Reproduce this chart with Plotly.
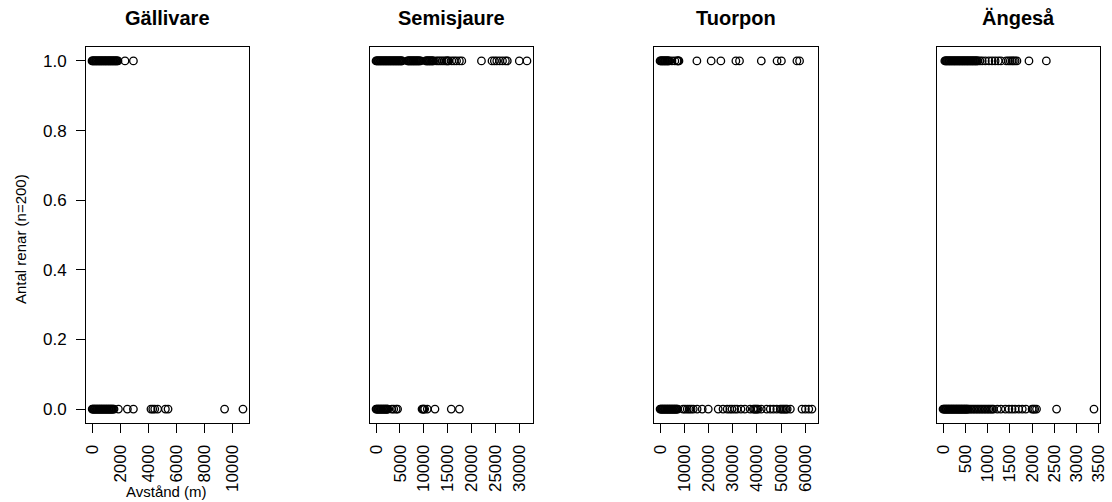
import plotly.graph_objects as go

# ---------------- data ----------------
sites = ["Gällivare", "Semisjaure", "Tuorpon", "Ängeså"]
y_title = "Antal renar (n=200)"
x_title = "Avstånd (m)"

gal_1 = [0, 35, 90, 140, 195, 240, 290, 345, 390, 445, 500, 540, 595, 640, 690, 745, 790, 845,
         900, 940, 995, 1040, 1090, 1150, 1190, 1245, 1290, 1340, 1395, 1440, 1490, 1545, 1590,
         1640, 1695, 1740, 1790, 1850, 2350, 2950]
gal_0 = [10, 55, 105, 150, 205, 250, 300, 355, 400, 450, 505, 550, 600, 655, 700, 750, 800,
         855, 900, 950, 1005, 1050, 1100, 1150, 1205, 1250, 1300, 1355, 1400, 1450, 1505, 1570,
         1880, 2520, 2950, 4200, 4330, 4470, 4680, 5230, 5420, 9450, 10760]

sem_1 = [0, 140, 290, 450, 590, 740, 890, 1030, 1190, 1330, 1480, 1640, 1780, 1930, 2080, 2230,
         2370, 2520, 2680, 2820, 2970, 3120, 3260, 3420, 3560, 3710, 3870, 4010, 4160, 4310,
         4450, 4610, 4750, 4900, 5050, 5200, 5340, 5440, 6560, 6710, 6860, 7010, 7150, 7300,
         7460, 7600, 7750, 7900, 8050, 8190, 8350, 8500, 8640, 8800, 8950, 9100, 9310, 10350,
         10500, 10650, 10790, 10950, 11100, 11240, 11400, 11550, 11700, 11850, 12020, 12600,
         13000, 13400, 13800, 14200, 14600, 14800, 15000, 15200, 15800, 16300, 16800, 17400,
         17900, 22000, 24200, 24700, 25200, 25800, 26400, 27000, 27400, 29900, 31500]
sem_0 = [0, 140, 300, 440, 590, 740, 890, 1040, 1180, 1330, 1480, 1630, 1780, 1920, 2070, 2220,
         2370, 2450, 3300, 3700, 4200, 4500, 9600, 9800, 9950, 10150, 10700, 12300, 15700, 17400]

tuo_1 = [0, 290, 580, 870, 1160, 1450, 1740, 2030, 2320, 2610, 2900, 3190, 3480, 3750, 4900,
         6100, 7000, 7300, 7550, 7800, 15200, 21100, 25100, 31300, 32800, 41800, 48300, 50100,
         56500, 57600]
tuo_0 = [0, 290, 590, 870, 1170, 1450, 1750, 2030, 2330, 2610, 2910, 3190, 3490, 3770, 4060,
         4350, 4640, 4930, 5220, 5510, 5800, 6090, 6380, 6670, 6960, 7300, 9500, 10300, 11200,
         12000, 12800, 13700, 15300, 17400, 19900, 24000, 26000, 27700, 28800, 29700, 30800,
         31800, 33400, 35000, 37200, 38500, 39000, 39500, 40000, 40500, 41800, 44000, 45500,
         46800, 48200, 49600, 50200, 50800, 51400, 52000, 52500, 53800, 58600, 60000, 61400,
         62700]

ang_1 = [40, 56, 72, 88, 104, 121, 137, 153, 169, 185, 201, 218, 234, 250, 266, 282, 298, 315,
         331, 347, 363, 379, 395, 412, 428, 444, 460, 476, 492, 509, 525, 541, 557, 573, 589,
         606, 622, 638, 654, 670, 686, 703, 719, 735, 751, 767, 785, 830, 880, 950, 1030, 1100,
         1170, 1240, 1300, 1420, 1470, 1510, 1550, 1580, 1620, 1660, 1930, 2320]
ang_0 = [0, 20, 36, 52, 68, 85, 101, 117, 133, 149, 165, 182, 198, 214, 230, 246, 262, 279, 295,
         311, 327, 343, 359, 376, 392, 408, 424, 440, 456, 473, 489, 505, 521, 537, 553, 575,
         610, 645, 680, 715, 750, 785, 820, 855, 890, 925, 960, 995, 1030, 1065, 1100, 1130,
         1220, 1300, 1400, 1480, 1550, 1620, 1700, 1780, 1860, 2000, 2030, 2060, 2100, 2550,
         3390]

gal_ticks = [0, 2000, 4000, 6000, 8000, 10000]
sem_ticks = [0, 5000, 10000, 15000, 20000, 25000, 30000]
tuo_ticks = [0, 10000, 20000, 30000, 40000, 50000, 60000]
ang_ticks = [0, 500, 1000, 1500, 2000, 2500, 3000, 3500]
y_ticks = [0.0, 0.2, 0.4, 0.6, 0.8, 1.0]

panels = [
    (sites[0], gal_1, gal_0, gal_ticks),
    (sites[1], sem_1, sem_0, sem_ticks),
    (sites[2], tuo_1, tuo_0, tuo_ticks),
    (sites[3], ang_1, ang_0, ang_ticks),
]

# ---------------- layout geometry ----------------
W, H = 1112, 502
x_doms_px = [(86, 249), (370, 533), (654, 818), (937, 1100)]
y_dom = [1 - 423 / H, 1 - 47 / H]
FONT = "Liberation Sans, Arial, Helvetica, sans-serif"
TICK_SIZE = 17

fig = go.Figure()
annotations = []
layout = dict(
    width=W, height=H, autosize=False,
    margin=dict(l=0, r=0, t=0, b=0),
    paper_bgcolor="white", plot_bgcolor="white",
    showlegend=False,
    font=dict(family=FONT, size=16, color="black"),
)

for i, (name, ones, zeros, ticks) in enumerate(panels):
    idx = "" if i == 0 else str(i + 1)
    xs = ones + zeros
    ys = [1] * len(ones) + [0] * len(zeros)
    fig.add_trace(go.Scatter(
        x=xs, y=ys, mode="markers",
        marker=dict(symbol="circle-open", size=7.5, color="black",
                    line=dict(width=1.3, color="black")),
        xaxis="x" + idx, yaxis="y" + idx, hoverinfo="x+y",
    ))
    lo, hi = min(xs), max(xs)
    pad = 0.04 * (hi - lo)
    d0, d1 = x_doms_px[i]
    layout["xaxis" + idx] = dict(
        domain=[d0 / W, d1 / W], range=[lo - pad, hi + pad], anchor="y" + idx,
        tickmode="array", tickvals=ticks, ticktext=[str(t) for t in ticks],
        tickangle=-90, ticks="outside", ticklen=9, tickcolor="black", tickwidth=1,
        ticklabelstandoff=5, automargin=False,
        showline=True, mirror=True, linecolor="black", linewidth=1,
        showgrid=False, zeroline=False,
        tickfont=dict(family=FONT, size=TICK_SIZE, color="black"),
    )
    ycfg = dict(
        domain=y_dom, range=[-0.04, 1.04], anchor="x" + idx, automargin=False,
        showline=True, mirror=True, linecolor="black", linewidth=1,
        showgrid=False, zeroline=False,
    )
    if i == 0:
        ycfg.update(tickmode="array", tickvals=y_ticks, ticktext=[f"{v:.1f}" for v in y_ticks],
                    ticks="outside", ticklen=9, tickcolor="black", tickwidth=1,
                    ticklabelstandoff=6,
                    tickfont=dict(family=FONT, size=TICK_SIZE, color="black"))
    else:
        ycfg.update(showticklabels=False, ticks="")
    layout["yaxis" + idx] = ycfg
    annotations.append(dict(
        text="<b>" + name + "</b>", xref="paper", yref="paper",
        x=(d0 + d1) / 2 / W, y=1 - 18 / H, xanchor="center", yanchor="middle",
        showarrow=False, font=dict(family=FONT, size=20, color="black"),
    ))

annotations.append(dict(
    text=y_title, xref="paper", yref="paper", x=20 / W, y=1 - 239 / H,
    xanchor="center", yanchor="middle", textangle=-90, showarrow=False,
    font=dict(family=FONT, size=15, color="black"),
))
annotations.append(dict(
    text=x_title, xref="paper", yref="paper", x=166 / W, y=1 - 491 / H,
    xanchor="center", yanchor="middle", showarrow=False,
    font=dict(family=FONT, size=15, color="black"),
))
layout["annotations"] = annotations
fig.update_layout(**layout)
fig.write_html(
    "out.html",
    config={"displayModeBar": False},
    post_script="document.documentElement.style.overflow='hidden';"
                "document.body.style.margin='0';document.body.style.padding='0';"
                "document.body.style.overflow='hidden';",
)
